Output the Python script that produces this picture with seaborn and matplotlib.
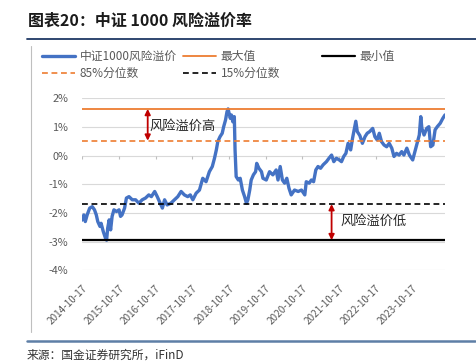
import pandas as pd
import matplotlib.pyplot as plt
import matplotlib.lines as mlines
import seaborn as sns

sns.set_theme(style='white')
plt.rcParams['font.family'] = ['Noto Sans CJK SC', 'DejaVu Sans']
plt.rcParams['axes.unicode_minus'] = False

# 时间(小数年) 与 风险溢价(%)
years = [
    2014.79, 2014.84, 2014.88, 2014.93, 2015.00, 2015.07, 2015.13, 2015.18, 2015.22, 2015.28,
    2015.31, 2015.37, 2015.43, 2015.46, 2015.49, 2015.53, 2015.57, 2015.61, 2015.66, 2015.73,
    2015.80, 2015.84, 2015.88, 2015.95, 2016.00, 2016.07, 2016.16, 2016.25, 2016.34, 2016.43,
    2016.52, 2016.61, 2016.68, 2016.77, 2016.84, 2016.92, 2016.98, 2017.04, 2017.11, 2017.21,
    2017.31, 2017.40, 2017.49, 2017.58, 2017.67, 2017.74, 2017.81, 2017.90, 2017.99, 2018.08,
    2018.17, 2018.26, 2018.34, 2018.40, 2018.45, 2018.49, 2018.55, 2018.61, 2018.65, 2018.70,
    2018.74, 2018.77, 2018.83, 2018.86, 2018.90, 2018.94, 2018.96, 2018.99, 2019.05, 2019.10,
    2019.16, 2019.22, 2019.27, 2019.31, 2019.36, 2019.40, 2019.46, 2019.52, 2019.55, 2019.61,
    2019.68, 2019.72, 2019.81, 2019.90, 2019.99, 2020.08, 2020.13, 2020.19, 2020.25, 2020.31,
    2020.37, 2020.43, 2020.49, 2020.58, 2020.68, 2020.77, 2020.86, 2020.90, 2020.98, 2021.04,
    2021.10, 2021.16, 2021.22, 2021.29, 2021.36, 2021.45, 2021.52, 2021.59, 2021.65, 2021.72,
    2021.80, 2021.86, 2021.92, 2021.98, 2022.04, 2022.11, 2022.16, 2022.22, 2022.25, 2022.29,
    2022.36, 2022.43, 2022.50, 2022.56, 2022.63, 2022.71, 2022.77, 2022.83, 2022.89, 2022.95,
    2023.02, 2023.09, 2023.16, 2023.23, 2023.29, 2023.36, 2023.43, 2023.50, 2023.56, 2023.64,
    2023.71, 2023.80, 2023.86, 2023.93, 2023.98, 2024.02, 2024.05, 2024.11, 2024.18, 2024.24,
    2024.29, 2024.35, 2024.41, 2024.47, 2024.55, 2024.62, 2024.68,
]
premium = [
    -2.25, -2.07, -2.30, -2.07, -1.83, -1.78, -1.89, -2.07, -2.30, -2.47,
    -2.36, -2.65, -2.88, -2.95, -2.53, -2.24, -2.59, -2.12, -1.89, -1.95,
    -1.89, -2.12, -2.07, -1.83, -1.48, -1.43, -1.54, -1.54, -1.66, -1.54,
    -1.48, -1.37, -1.43, -1.25, -1.43, -1.66, -1.83, -1.54, -1.72, -1.66,
    -1.54, -1.43, -1.25, -1.37, -1.43, -1.37, -1.54, -1.31, -1.20, -0.79,
    -0.91, -0.56, -0.38, -0.09, 0.20, 0.49, 0.66, 0.78, 1.01, 1.24,
    1.53, 1.63, 1.30, 1.42, 1.18, 1.36, 0.20, -0.73, -0.85, -0.79,
    -1.20, -1.43, -1.66, -1.54, -1.20, -0.85, -0.67, -0.56, -0.27, -0.44,
    -0.56, -0.79, -0.85, -0.56, -0.67, -0.50, -0.85, -0.38, -0.85, -0.96,
    -0.79, -1.14, -1.37, -1.20, -1.25, -1.20, -1.37, -0.91, -0.96, -0.85,
    -0.91, -0.50, -0.38, -0.44, -0.32, -0.21, -0.09, 0.02, -0.21, -0.09,
    -0.15, -0.21, -0.03, 0.08, 0.43, 0.20, 0.60, 1.00, 1.20, 0.84,
    0.70, 0.43, 0.66, 0.78, 0.84, 0.95, 0.66, 0.55, 0.78, 0.49,
    0.37, 0.31, 0.43, 0.26, -0.03, 0.08, 0.02, 0.14, 0.02, 0.26,
    0.02, -0.15, 0.14, 0.49, 0.72, 1.36, 0.95, 0.72, 0.95, 1.01,
    0.31, 0.37, 0.90, 1.01, 1.13, 1.30, 1.42,
]
max_val = 1.63
min_val = -2.95
p85 = 0.52
p15 = -1.69
tick_labels = ['2014-10-17', '2015-10-17', '2016-10-17', '2017-10-17', '2018-10-17',
               '2019-10-17', '2020-10-17', '2021-10-17', '2022-10-17', '2023-10-17']


def yr_to_date(y):
    return pd.Timestamp('2014-01-01') + pd.Timedelta(days=(y - 2014) * 365.25)


df = pd.DataFrame({'date': [yr_to_date(y) for y in years], 'premium': premium})
tick_dates = pd.to_datetime(tick_labels)

W, H = 477, 362
fig = plt.figure(figsize=(W / 100, H / 100), dpi=100)
ax = fig.add_axes([82 / W, 1 - 270.3 / H, 363 / W, 172 / H])

ax.set_ylim(-4, 2)
ax.set_xlim(df['date'].iloc[0], df['date'].iloc[-1])
ax.set_yticks(range(-4, 3))
ax.set_yticklabels([f'{v}%' for v in range(-4, 3)])
ax.yaxis.grid(True, color='#D9D9D9', lw=0.8)
ax.set_axisbelow(True)
for s in ax.spines.values():
    s.set_visible(False)

# 0 轴上的刻度线
ax.vlines(tick_dates, -0.1, 0, color='#BFBFBF', lw=0.8)

sns.lineplot(data=df, x='date', y='premium', color='#4472C4', lw=2.4, ax=ax, legend=False)
h_series = ax.lines[0]
h_max = ax.axhline(max_val, color='#ED7D31', lw=1.3)
h_min = ax.axhline(min_val, color='black', lw=1.6)
h_p85 = ax.axhline(p85, color='#ED7D31', lw=1.2, ls=(0, (3.5, 2.2)))
h_p15 = ax.axhline(p15, color='black', lw=1.2, ls=(0, (3.5, 2.2)))

ax.set_xticks(tick_dates)
ax.set_xticklabels(tick_labels, rotation=45, ha='right', rotation_mode='anchor')
ax.tick_params(axis='x', length=0, pad=9, labelsize=7.2, labelcolor='#595959')
ax.tick_params(axis='y', length=0, pad=10, labelsize=7.8, labelcolor='#595959')
ax.set_xlabel('')
ax.set_ylabel('')

# 标注
arrow_kw = dict(arrowstyle='<|-|>', color='#C00000', lw=1.3, shrinkA=0, shrinkB=0, mutation_scale=8)
x_hi = yr_to_date(2016.58)
x_lo = yr_to_date(2021.59)
ax.annotate('', xy=(x_hi, max_val), xytext=(x_hi, p85), arrowprops=arrow_kw)
ax.text(yr_to_date(2016.63), 1.03, '风险溢价高', fontsize=9.5, va='center', color='#262626')
ax.annotate('', xy=(x_lo, p15), xytext=(x_lo, min_val), arrowprops=arrow_kw)
ax.text(yr_to_date(2021.82), -2.30, '风险溢价低', fontsize=9.5, va='center', color='#262626')

# 图例（按原图逐行排列）
leg_kw = dict(frameon=False, fontsize=8.5, handlelength=2.8, handletextpad=0.4,
              labelspacing=0.35, borderpad=0, borderaxespad=0, loc='upper left',
              labelcolor='#595959')
top = 1 - 50 / H
fig.legend([h_series, h_p85], ['中证1000风险溢价', '85%分位数'], bbox_to_anchor=(42 / W, top), **leg_kw)
fig.legend([h_max, h_p15], ['最大值', '15%分位数'], bbox_to_anchor=(183 / W, top), **leg_kw)
fig.legend([h_min], ['最小值'], bbox_to_anchor=(322 / W, top), **leg_kw)

# 标题、边框与来源
fig.text(28 / W, 1 - 21 / H, '图表20：中证 1000 风险溢价率', fontsize=11.5, fontweight='bold',
         style='italic', va='center', color='#1a1a1a')
fig.add_artist(mlines.Line2D([27 / W, 1], [1 - 39 / H] * 2, color='#1F3864', lw=1.3))
fig.add_artist(mlines.Line2D([30.7 / W] * 2, [1 - 46 / H, 1 - 332 / H], color='#BFBFBF', lw=0.8))
fig.add_artist(mlines.Line2D([27 / W, 475 / W], [1 - 341 / H] * 2, color='#5E7FA6', lw=1.8))
fig.text(27 / W, 1 - 355 / H, '来源：国金证券研究所，iFinD', fontsize=8.5, va='center', color='#333333')

fig.savefig('out.png', dpi=100)
